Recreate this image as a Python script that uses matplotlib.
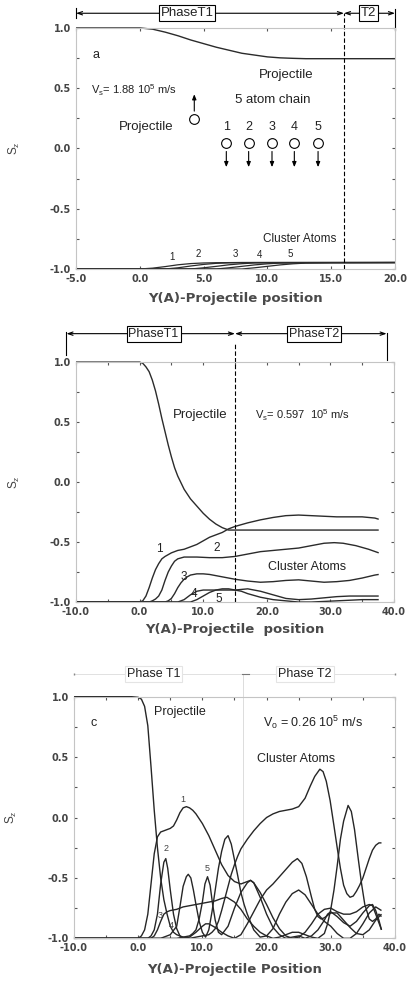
import matplotlib
matplotlib.use("Agg")
import matplotlib.pyplot as plt
from matplotlib.ticker import MultipleLocator, FormatStrFormatter

plt.rcParams["font.family"] = ["Liberation Sans", "DejaVu Sans"]
plt.rcParams["mathtext.default"] = "regular"

LINE = "#2b2b2b"
FRAME = "#c4c4c4"
TXT = "#222222"
AXTXT = "#444444"

# ---------------- panel a (V = 1.88e5 m/s) ----------------
a_proj_x = [-5, 0, 1, 2, 3, 4, 5, 6, 7, 8, 9, 10, 11, 12, 13, 20]
a_proj_y = [1.0, 1.0, 0.99, 0.965, 0.935, 0.90, 0.87, 0.84, 0.815, 0.79, 0.775, 0.76, 0.752, 0.748, 0.745, 0.745]

a_atom_x = [
    [-5, 0, 1, 2, 3, 4, 5, 6, 8, 20],
    [-5, 2, 3, 4, 5, 6, 7, 9, 20],
    [-5, 4, 5, 6, 7, 8, 9, 11, 20],
    [-5, 6, 7, 8, 9, 10, 11, 13, 20],
    [-5, 8, 9, 10, 11, 12, 13, 15, 20],
]
a_atom_y = [
    [-1.0, -1.0, -0.993, -0.98, -0.965, -0.955, -0.95, -0.948, -0.946, -0.945],
    [-1.0, -1.0, -0.99, -0.975, -0.962, -0.953, -0.949, -0.947, -0.946],
    [-1.0, -1.0, -0.99, -0.978, -0.965, -0.956, -0.95, -0.948, -0.947],
    [-1.0, -1.0, -0.99, -0.978, -0.966, -0.957, -0.951, -0.948, -0.947],
    [-1.0, -1.0, -0.99, -0.978, -0.966, -0.957, -0.951, -0.948, -0.947],
]
a_lab_x = [2.5, 4.6, 7.5, 9.4, 11.8]
a_lab_y = [-0.90, -0.876, -0.876, -0.88, -0.876]

# schematic of projectile + 5 atom chain
chain_x = [6.78, 8.53, 10.36, 12.11, 13.97]
chain_y = 0.048
chain_lab_y = 0.176
proj_dot = (4.27, 0.247)

# ---------------- panel b (V = 0.597e5 m/s) ----------------
b_proj_x = [-10, 0, 0.5, 1, 1.5, 2, 2.5, 3, 3.5, 4, 4.5, 5, 5.5, 6, 7, 8, 9, 10, 11, 12, 13, 14, 15, 37.6]
b_proj_y = [1.0, 1.0, 0.99, 0.96, 0.92, 0.85, 0.76, 0.65, 0.53, 0.42, 0.31, 0.21, 0.12, 0.05, -0.06,
            -0.14, -0.2, -0.26, -0.31, -0.35, -0.38, -0.4, -0.4, -0.4]

b_atom_x = [
    [-10, 0, 0.5, 1, 1.5, 2, 2.5, 3, 3.5, 4, 5, 6, 7, 8, 9, 10, 11, 12, 13, 14, 15, 17, 19, 21, 23,
     25, 27, 29, 31, 33, 35, 37, 37.6],
    [-10, 1.5, 2, 2.5, 3, 3.5, 4, 4.5, 5, 5.5, 6, 7, 9, 11, 13, 15, 17, 19, 21, 23, 25, 27, 29,
     30.6, 32, 34, 36, 37.6],
    [-10, 4, 4.5, 5, 5.5, 6, 6.5, 7, 7.5, 8, 9, 10, 11, 12, 13, 14, 15, 17, 19, 21, 23, 25, 27, 29,
     31, 33, 35, 37, 37.6],
    [-10, 6, 6.5, 7, 7.5, 8, 9, 10, 12, 14, 15, 17, 19, 21, 23, 25, 27, 29, 31, 33, 35, 37.6],
    [-10, 8, 8.5, 9, 10, 11, 12, 13, 14, 15, 16, 17, 19, 21, 23, 25, 27, 29, 31, 33, 35, 37.6],
]
b_atom_y = [
    [-1.0, -1.0, -0.99, -0.95, -0.88, -0.8, -0.73, -0.68, -0.64, -0.62, -0.59, -0.57, -0.56, -0.54,
     -0.52, -0.49, -0.46, -0.44, -0.42, -0.39, -0.37, -0.34, -0.315, -0.295, -0.28, -0.275, -0.28,
     -0.285, -0.29, -0.29, -0.29, -0.30, -0.31],
    [-1.0, -1.0, -0.99, -0.975, -0.95, -0.9, -0.82, -0.75, -0.7, -0.66, -0.64, -0.625, -0.625, -0.63,
     -0.63, -0.62, -0.6, -0.58, -0.57, -0.56, -0.55, -0.53, -0.51, -0.505, -0.51, -0.53, -0.56, -0.59],
    [-1.0, -1.0, -0.99, -0.97, -0.93, -0.88, -0.84, -0.81, -0.79, -0.775, -0.765, -0.765, -0.77,
     -0.78, -0.79, -0.8, -0.81, -0.825, -0.835, -0.83, -0.82, -0.815, -0.825, -0.835, -0.83, -0.82,
     -0.8, -0.775, -0.77],
    [-1.0, -1.0, -0.99, -0.98, -0.96, -0.94, -0.91, -0.9, -0.9, -0.9, -0.9, -0.89, -0.91, -0.94,
     -0.97, -0.98, -0.975, -0.965, -0.955, -0.95, -0.95, -0.95],
    [-1.0, -1.0, -0.99, -0.98, -0.95, -0.92, -0.9, -0.89, -0.89, -0.9, -0.91, -0.93, -0.96, -0.98,
     -0.99, -1.0, -1.0, -0.995, -0.99, -0.985, -0.98, -0.98],
]

# ---------------- panel c (V = 0.26e5 m/s) ----------------
c_proj_x = [-10, -1, 0, 0.5, 1, 1.5, 2, 2.5, 3, 3.5, 4, 4.5, 5, 5.5, 6, 7, 8, 9, 10, 11, 11.5, 12,
            12.5, 13, 13.5, 14, 14.5, 15, 15.5, 16, 17, 18, 19, 20, 21, 22, 23, 24, 25, 26, 26.8,
            27.5, 28.3, 28.8, 29.3, 29.9, 30.5, 31, 31.5, 32, 32.5, 33, 33.5, 34, 34.5, 35, 35.5,
            36, 36.5, 37, 37.5, 37.9]
c_proj_y = [1.0, 1.0, 0.995, 0.98, 0.92, 0.76, 0.42, 0.06, -0.25, -0.5, -0.68, -0.8, -0.9, -0.95,
            -0.97, -0.99, -1.0, -0.99, -0.98, -0.97, -0.95, -0.92, -0.86, -0.77, -0.67, -0.57,
            -0.47, -0.39, -0.32, -0.26, -0.18, -0.11, -0.05, 0.0, 0.03, 0.05, 0.06, 0.07, 0.09,
            0.16, 0.26, 0.34, 0.40, 0.38, 0.30, 0.14, -0.07, -0.25, -0.42, -0.56, -0.63, -0.66,
            -0.65, -0.61, -0.56, -0.5, -0.42, -0.34, -0.27, -0.23, -0.21, -0.21]

c_atom_x = [
    [-10, 0, 0.5, 1, 1.5, 2, 2.5, 3, 3.5, 4, 4.5, 5, 5.5, 6, 6.5, 7, 7.5, 8, 8.5, 9, 10, 11, 12, 13,
     14, 15, 16, 17, 17.5, 18, 19, 20, 21, 22, 23, 24, 25, 26, 27, 28, 29, 30, 31, 32, 33, 34, 35,
     36, 36.5, 37, 37.9],
    [-10, 1.5, 2, 2.5, 3, 3.5, 4, 4.3, 4.6, 5, 5.5, 6, 6.5, 7, 8, 9, 10, 10.5, 11, 12, 13, 14, 15,
     16, 17, 18, 19, 20, 21, 22, 23, 24, 24.8, 25.5, 26.2, 27, 27.5, 28, 28.5, 29, 30, 31, 32, 33,
     34, 35, 36, 37, 37.9],
    [-10, 2, 2.5, 3, 3.5, 4, 4.5, 5, 6, 7, 8, 9, 10, 11, 12, 13, 13.8, 15, 16, 17, 18, 19, 20, 21,
     22, 23, 24, 25, 26, 27, 28, 29, 29.5, 30, 30.5, 31, 31.5, 32, 32.7, 33.2, 33.7, 34.3, 34.8,
     35.3, 36, 36.5, 37, 37.5, 37.9],
    [-10, 3.5, 4, 5, 6, 6.5, 7, 7.5, 7.8, 8.2, 8.6, 9, 9.5, 10, 10.5, 11, 11.5, 12, 12.5, 13, 13.5,
     14, 14.5, 15, 15.5, 16, 16.5, 17, 18, 19, 20, 21, 22, 23, 24, 25, 26, 27, 28, 29, 30, 31, 32,
     33, 34, 35, 36, 37, 37.9],
    [-10, 6, 7, 8, 8.5, 9, 9.5, 10, 10.4, 10.8, 11.2, 11.6, 12, 12.5, 13, 14, 15, 16, 17, 17.5, 18,
     19, 20, 21, 22, 23, 24, 25, 26, 27, 28, 29, 29.5, 30, 31, 32, 33, 34, 35, 36, 36.5, 37, 37.5,
     37.9],
]
c_atom_y = [
    [-1.0, -1.0, -0.98, -0.93, -0.8, -0.55, -0.3, -0.16, -0.12, -0.11, -0.1, -0.09, -0.07, -0.02,
     0.04, 0.08, 0.09, 0.08, 0.06, 0.03, -0.05, -0.15, -0.27, -0.39, -0.48, -0.53, -0.55, -0.53,
     -0.52, -0.54, -0.62, -0.72, -0.83, -0.92, -0.98, -1.0, -0.99, -0.95, -0.88, -0.8, -0.76,
     -0.75, -0.78, -0.8, -0.8, -0.78, -0.74, -0.72, -0.73, -0.8, -0.93],
    [-1.0, -1.0, -0.98, -0.93, -0.8, -0.55, -0.37, -0.34, -0.42, -0.6, -0.8, -0.92, -0.98, -1.0,
     -0.99, -0.95, -0.9, -0.88, -0.88, -0.91, -0.95, -0.98, -1.0, -0.97, -0.88, -0.78, -0.68,
     -0.6, -0.55, -0.49, -0.43, -0.37, -0.34, -0.38, -0.49, -0.66, -0.76, -0.82, -0.84, -0.83,
     -0.79, -0.79, -0.85, -0.91, -0.96, -0.97, -0.93, -0.85, -0.8],
    [-1.0, -1.0, -0.98, -0.93, -0.86, -0.8, -0.78, -0.77, -0.76, -0.74, -0.73, -0.72, -0.71, -0.7,
     -0.69, -0.67, -0.66, -0.7, -0.76, -0.84, -0.9, -0.95, -0.98, -1.0, -0.99, -0.97, -0.95,
     -0.95, -0.97, -0.99, -1.0, -0.96, -0.88, -0.76, -0.6, -0.4, -0.18, -0.03, 0.10, 0.05, -0.1,
     -0.35, -0.55, -0.72, -0.84, -0.86, -0.84, -0.8, -0.82],
    [-1.0, -1.0, -0.99, -0.97, -0.9, -0.74, -0.57, -0.49, -0.47, -0.5, -0.6, -0.72, -0.86, -0.95,
     -0.99, -0.93, -0.78, -0.6, -0.42, -0.28, -0.18, -0.15, -0.22, -0.35, -0.48, -0.62, -0.72,
     -0.8, -0.93, -0.99, -0.98, -0.92, -0.8, -0.7, -0.63, -0.6, -0.64, -0.72, -0.8, -0.86, -0.9,
     -0.96, -1.0, -1.0, -0.96, -0.88, -0.79, -0.74, -0.77],
    [-1.0, -1.0, -0.99, -0.98, -0.96, -0.93, -0.84, -0.7, -0.55, -0.49, -0.56, -0.72, -0.85,
     -0.95, -0.97, -0.9, -0.75, -0.62, -0.54, -0.52, -0.54, -0.66, -0.8, -0.91, -0.97, -1.0,
     -0.99, -0.98, -1.0, -0.98, -0.93, -0.85, -0.8, -0.78, -0.82, -0.87, -0.9, -0.86, -0.79,
     -0.73, -0.72, -0.77, -0.85, -0.93],
]


def style_axes(ax, xlim, xmajor, xminor):
    ax.set_xlim(*xlim)
    ax.set_ylim(-1.0, 1.0)
    ax.xaxis.set_major_locator(MultipleLocator(xmajor))
    if xminor:
        ax.xaxis.set_minor_locator(MultipleLocator(xminor))
    ax.yaxis.set_major_locator(MultipleLocator(0.5))
    ax.yaxis.set_minor_locator(MultipleLocator(0.25))
    ax.xaxis.set_major_formatter(FormatStrFormatter("%.1f"))
    ax.yaxis.set_major_formatter(FormatStrFormatter("%.1f"))
    ax.tick_params(which="both", direction="in", top=True, right=True, length=2.5,
                   width=0.8, color="#555555", labelsize=7, labelcolor=AXTXT)
    ax.tick_params(axis="x", pad=3.5)
    ax.tick_params(axis="y", pad=3.5)
    for lbl in ax.get_xticklabels() + ax.get_yticklabels():
        lbl.set_fontfamily("DejaVu Sans")
        lbl.set_fontweight("bold")
    for s in ax.spines.values():
        s.set_color(FRAME)
        s.set_linewidth(0.8)
    ax.set_ylabel(r"S$_z$", fontsize=8.5, color=AXTXT)
    ax.yaxis.set_label_coords(-0.17, 0.5)


def xlabel(ax, s, ypos):
    ax.set_xlabel(s, fontsize=9.5, color="#4a4a4a", fontfamily="DejaVu Sans", fontweight="bold")
    ax.xaxis.set_label_coords(0.5, ypos)


def curve(ax, x, y, color=LINE, lw=1.0):
    ax.plot(x, y, color=color, lw=lw, clip_on=False, solid_capstyle="butt")


def phase_arrow(ax, x0, x1, y):
    ax.annotate("", xy=(x0, y), xytext=(x1, y), annotation_clip=False,
                arrowprops=dict(arrowstyle="<->,head_length=0.35,head_width=0.12",
                                lw=0.8, color="k", shrinkA=0, shrinkB=0))


def phase_label(ax, x, y, s, ec="k", fs=9):
    ax.text(x, y, s, ha="center", va="center", fontsize=fs, color=TXT, clip_on=False,
            bbox=dict(boxstyle="square,pad=0.15", fc="white", ec=ec, lw=0.8))


fig = plt.figure(figsize=(4.09, 9.81), dpi=100)
ax_a = fig.add_axes([0.1858, 0.7258, 0.7800, 0.2457])
ax_b = fig.add_axes([0.1858, 0.3863, 0.7775, 0.2446])
ax_c = fig.add_axes([0.1809, 0.0435, 0.7848, 0.2463])

# ---- panel a ----
ax = ax_a
style_axes(ax, (-5, 20), 5, None)
curve(ax, a_proj_x, a_proj_y)
for xs, ys in zip(a_atom_x, a_atom_y):
    curve(ax, xs, ys, lw=0.9)
for i, (lx, ly) in enumerate(zip(a_lab_x, a_lab_y)):
    ax.text(lx, ly, str(i + 1), ha="center", va="center", fontsize=7, color=TXT)
ax.plot([16, 16], [-1.0, 1.122], color="k", lw=0.8, ls=(0, (4, 2)), clip_on=False)
phase_arrow(ax, -5, 16, 1.122)
phase_arrow(ax, 16, 20, 1.122)
ax.plot([-5, -5], [1.085, 1.165], color="k", lw=0.8, clip_on=False)
ax.plot([20, 20], [0.98, 1.16], color="k", lw=0.8, clip_on=False)
phase_label(ax, 3.7, 1.122, "PhaseT1", fs=9.5)
phase_label(ax, 17.9, 1.122, "T2", fs=9.5)
ax.text(-3.4, 0.776, "a", ha="center", va="center", fontsize=9, color=TXT)
ax.text(-3.8, 0.48, r"V$_s$= 1.88 10$^5$ m/s", ha="left", va="center", fontsize=8, color=TXT)
ax.text(11.46, 0.61, "Projectile", ha="center", va="center", fontsize=9.5, color=TXT)
ax.text(10.4, 0.40, "5 atom chain", ha="center", va="center", fontsize=9.5, color=TXT)
ax.text(0.54, 0.176, "Projectile", ha="center", va="center", fontsize=9.5, color=TXT)
ax.text(12.5, -0.754, "Cluster Atoms", ha="center", va="center", fontsize=8.5, color=TXT)
ax.plot([proj_dot[0]], [proj_dot[1]], "o", ms=7, mfc="white", mec="k", mew=0.8)
ax.annotate("", xy=(proj_dot[0], 0.45), xytext=(proj_dot[0], 0.31),
            arrowprops=dict(arrowstyle="-|>,head_length=0.3,head_width=0.12", lw=0.8, color="k",
                            shrinkA=0, shrinkB=0))
for i, cx in enumerate(chain_x):
    ax.text(cx, chain_lab_y, str(i + 1), ha="center", va="center", fontsize=9, color=TXT)
    ax.plot([cx], [chain_y], "o", ms=7, mfc="white", mec="k", mew=0.8)
    ax.annotate("", xy=(cx, -0.155), xytext=(cx, -0.025),
                arrowprops=dict(arrowstyle="-|>,head_length=0.3,head_width=0.12", lw=0.8,
                                color="k", shrinkA=0, shrinkB=0))
xlabel(ax, "Y(A)-Projectile position", -0.095)

# ---- panel b ----
ax = ax_b
style_axes(ax, (-10, 40), 10, 5)
curve(ax, b_proj_x, b_proj_y)
for xs, ys in zip(b_atom_x, b_atom_y):
    curve(ax, xs, ys)
ax.plot([15, 15], [-1.0, 1.17], color="k", lw=0.8, ls=(0, (4, 2)), clip_on=False)
phase_arrow(ax, -11.5, 15, 1.237)
phase_arrow(ax, 15, 38.85, 1.237)
ax.plot([-11.5, -11.5], [1.06, 1.25], color="k", lw=0.8, clip_on=False)
ax.plot([38.85, 38.85], [1.02, 1.24], color="k", lw=0.8, clip_on=False)
phase_label(ax, 2.2, 1.237, "PhaseT1")
phase_label(ax, 27.4, 1.237, "PhaseT2")
ax.text(9.56, 0.556, "Projectile", ha="center", va="center", fontsize=9.5, color=TXT)
ax.text(25.6, 0.556, r"V$_s$= 0.597  10$^5$ m/s", ha="center", va="center", fontsize=8, color=TXT)
ax.text(26.4, -0.71, "Cluster Atoms", ha="center", va="center", fontsize=9, color=TXT)
for s, lx, ly in zip(["1", "2", "3", "4", "5"], [3.1, 12.1, 6.9, 8.5, 12.4],
                     [-0.56, -0.55, -0.79, -0.93, -0.975]):
    ax.text(lx, ly, s, ha="center", va="center", fontsize=8.5, color=TXT)
xlabel(ax, "Y(A)-Projectile  position", -0.087)

# ---- panel c ----
ax = ax_c
style_axes(ax, (-10, 40), 10, 5)
ax.plot([16.4, 16.4], [-1.0, 1.19], color="#dcdcdc", lw=0.7, clip_on=False, zorder=1)
ax.plot([-10, 40], [1.19, 1.19], color="#dcdcdc", lw=0.6, clip_on=False)
ax.plot([16.1, 17.2], [1.19, 1.19], color="#777777", lw=0.8, clip_on=False)
ax.plot([-10, 40], [1.19, 1.19], ls="none", marker="|", ms=2, color="#888888", clip_on=False)
phase_label(ax, 2.35, 1.19, "Phase T1", ec="#e4e4e4", fs=9)
phase_label(ax, 26.0, 1.19, "Phase T2", ec="#e4e4e4", fs=9)
curve(ax, c_proj_x, c_proj_y, color="#262626")
for xs, ys in zip(c_atom_x, c_atom_y):
    curve(ax, xs, ys, color="#262626")
ax.text(-7.0, 0.78, "c", ha="center", va="center", fontsize=9, color=TXT)
ax.text(6.5, 0.876, "Projectile", ha="center", va="center", fontsize=9, color=TXT)
ax.text(27.3, 0.785, r"V$_o$ = 0.26 10$^5$ m/s", ha="center", va="center", fontsize=9, color=TXT)
ax.text(24.6, 0.485, "Cluster Atoms", ha="center", va="center", fontsize=9, color=TXT)
for s, lx, ly in zip(["1", "2", "3", "4", "5"], [6.9, 4.3, 3.5, 5.2, 10.7],
                     [0.145, -0.26, -0.815, -0.895, -0.42]):
    ax.text(lx, ly, s, ha="center", va="center", fontsize=6.5, color="#444444")
xlabel(ax, "Y(A)-Projectile Position", -0.104)

fig.savefig("out.png", dpi=100)
